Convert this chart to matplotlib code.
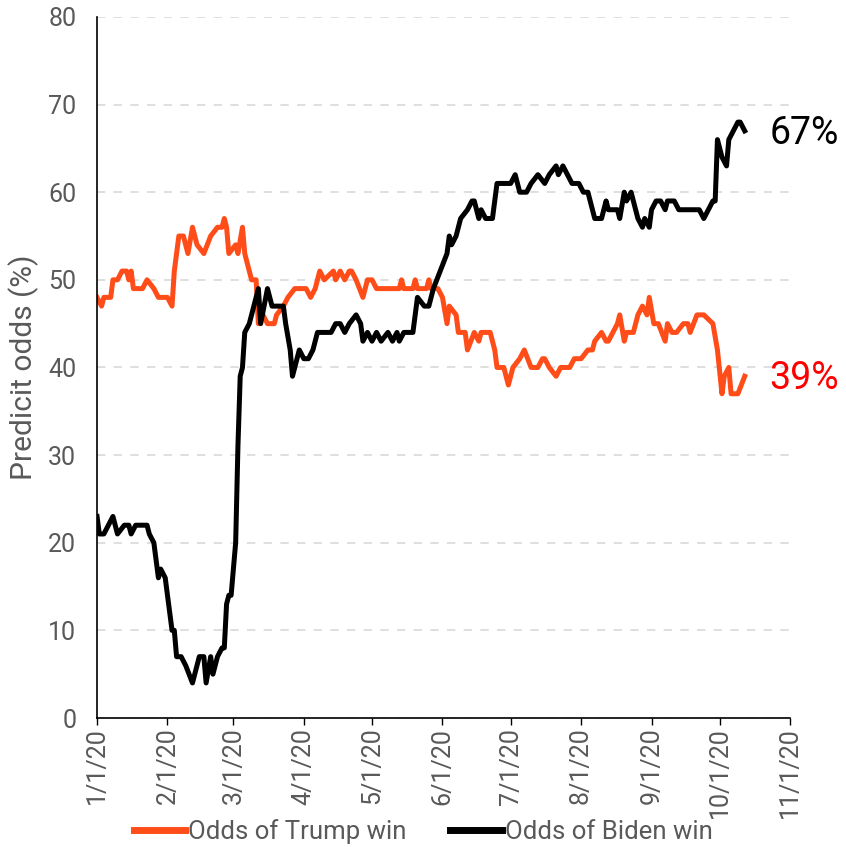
import numpy as np
import pandas as pd
import matplotlib
matplotlib.use("Agg")
import matplotlib.pyplot as plt

# days after 1/1/20 and PredictIt odds (%)
trump_day = [0, 2, 3, 6, 7, 9, 11, 13, 14, 15, 16, 20, 22, 25, 27, 31, 33, 34, 36, 38,
             40, 42, 44, 47, 50, 53, 55, 56, 57, 58, 61, 62, 64, 65, 68, 70, 71, 73, 75, 78,
             79, 82, 84, 87, 89, 92, 94, 96, 97, 98, 100, 104, 105, 107, 109, 111, 112, 114, 117, 119,
             121, 123, 133, 134, 135, 139, 140, 141, 145, 146, 147, 150, 152, 154, 155, 158, 159, 162, 163, 166,
             168, 169, 173, 175, 176, 179, 181, 183, 186, 188, 191, 194, 196, 197, 199, 202, 204, 208, 210, 213,
             216, 218, 219, 222, 224, 225, 227, 229, 230, 232, 233, 236, 238, 240, 242, 243, 245, 247, 250, 251,
             253, 255, 258, 260, 261, 264, 267, 271, 273, 275, 276, 278, 279, 282, 285]
trump_odds = [48, 47, 48, 48, 50, 50, 51, 51, 50, 51, 49, 49, 50, 49, 48, 48, 47, 51, 55, 55,
              53, 56, 54, 53, 55, 56, 56, 57, 56, 53, 54, 53, 56, 53, 50, 50, 45, 46, 45, 45,
              46, 47, 48, 49, 49, 49, 48, 49, 50, 51, 50, 51, 50, 51, 50, 51, 51, 50, 48, 50,
              50, 49, 49, 50, 49, 49, 50, 49, 49, 50, 49, 49, 48, 45, 47, 46, 44, 44, 42, 44,
              43, 44, 44, 42, 40, 40, 38, 40, 41, 42, 40, 40, 41, 41, 40, 39, 40, 40, 41, 41,
              42, 42, 43, 44, 43, 43, 44, 45, 46, 43, 44, 44, 46, 47, 46, 48, 45, 45, 43, 45,
              44, 44, 45, 45, 44, 46, 46, 45, 42, 37, 39, 40, 37, 37, 39]

biden_day = [0, 1, 3, 7, 9, 12, 14, 15, 17, 20, 22, 23, 25, 26, 27, 28, 30, 31, 33, 34,
             35, 37, 39, 42, 45, 47, 48, 50, 51, 53, 55, 56, 57, 58, 59, 61, 62, 63, 64, 65,
             67, 68, 69, 71, 72, 75, 77, 78, 80, 82, 83, 85, 86, 88, 89, 91, 93, 95, 97, 99,
             103, 105, 107, 109, 111, 114, 116, 117, 119, 121, 123, 125, 128, 130, 132, 133, 135, 139, 140, 141,
             144, 146, 148, 151, 154, 155, 156, 158, 160, 163, 165, 166, 168, 169, 171, 174, 176, 182, 184, 186,
             189, 191, 194, 197, 199, 202, 203, 205, 207, 209, 212, 214, 216, 218, 219, 222, 224, 225, 229, 230,
             232, 233, 235, 236, 238, 240, 241, 243, 244, 246, 248, 250, 251, 254, 256, 265, 267, 269, 271, 272,
             273, 275, 277, 278, 280, 282, 283, 285]
biden_odds = [23, 21, 21, 23, 21, 22, 22, 21, 22, 22, 22, 21, 20, 18, 16, 17, 16, 14, 10, 10,
              7, 7, 6, 4, 7, 7, 4, 7, 5, 7, 8, 8, 13, 14, 14, 20, 31, 39, 40, 44,
              45, 46, 47, 49, 45, 49, 47, 47, 47, 47, 45, 42, 39, 41, 42, 41, 41, 42, 44, 44,
              44, 45, 45, 44, 45, 46, 45, 43, 44, 43, 44, 43, 44, 43, 44, 43, 44, 44, 46, 48,
              47, 47, 49, 51, 53, 55, 54, 55, 57, 58, 59, 59, 57, 58, 57, 57, 61, 61, 62, 60,
              60, 61, 62, 61, 62, 63, 62, 63, 62, 61, 61, 60, 60, 58, 57, 57, 59, 58, 58, 57,
              60, 59, 60, 59, 57, 56, 57, 56, 58, 59, 59, 58, 59, 59, 58, 58, 57, 58, 59, 59,
              66, 64, 63, 66, 67, 68, 68, 67]

start = pd.Timestamp("2020-01-01")
trump_dates = start + pd.to_timedelta(trump_day, unit="D")
biden_dates = start + pd.to_timedelta(biden_day, unit="D")

month_ticks = pd.date_range("2020-01-01", "2020-11-01", freq="MS")
tick_labels = [f"{d.month}/1/20" for d in month_ticks]

plt.rcParams['font.family'] = ['Roboto', 'DejaVu Sans']

trump_color = "#FF4D1A"
grey = "#595959"

fig = plt.figure(figsize=(8.46, 8.47), dpi=100)
ax = fig.add_axes([0.1147, 0.1523, 0.8193, 0.8277])

ax.plot(trump_dates, trump_odds, color=trump_color, lw=3.6, label="Odds of Trump win")
ax.plot(biden_dates, biden_odds, color="black", lw=3.6, label="Odds of Biden win")

ax.set_xlim(month_ticks[0], month_ticks[-1])
ax.set_ylim(0, 80)
ax.set_yticks(np.arange(0, 81, 10))
ax.set_xticks(month_ticks)
ax.set_xticklabels(tick_labels, rotation=90, fontsize=18, color=grey)
ax.tick_params(axis="y", length=0, labelsize=18, labelcolor=grey, pad=15)
ax.tick_params(axis="x", length=5, direction="out", width=1, pad=2)

ax.yaxis.grid(True, color="#d9d9d9", linestyle=(0, (5, 5)), lw=1.2)
ax.set_axisbelow(True)
for side in ["top", "right"]:
    ax.spines[side].set_visible(False)
ax.spines["left"].set_linewidth(1.2)
ax.spines["bottom"].set_linewidth(1.2)

ax.set_ylabel("Predicit odds (%)", fontsize=21.5, color=grey)
ax.yaxis.set_label_coords(-0.084, 0.5)

ax.text(month_ticks[-1] - pd.Timedelta(days=9), biden_odds[-1] - 0.3, "67%",
        fontsize=27, color="black", va="center", ha="left")
ax.text(month_ticks[-1] - pd.Timedelta(days=9), trump_odds[-1] - 0.3, "39%",
        fontsize=27, color="#FF0000", va="center", ha="left")

leg = fig.legend(loc="lower center", bbox_to_anchor=(0.5, -0.024), ncol=2, frameon=False,
                 fontsize=18.5, handlelength=2.0, handletextpad=0.12, columnspacing=1.7)
for t in leg.get_texts():
    t.set_color(grey)
for h in leg.get_lines():
    h.set_linewidth(5)

fig.savefig("out.png", dpi=100)
